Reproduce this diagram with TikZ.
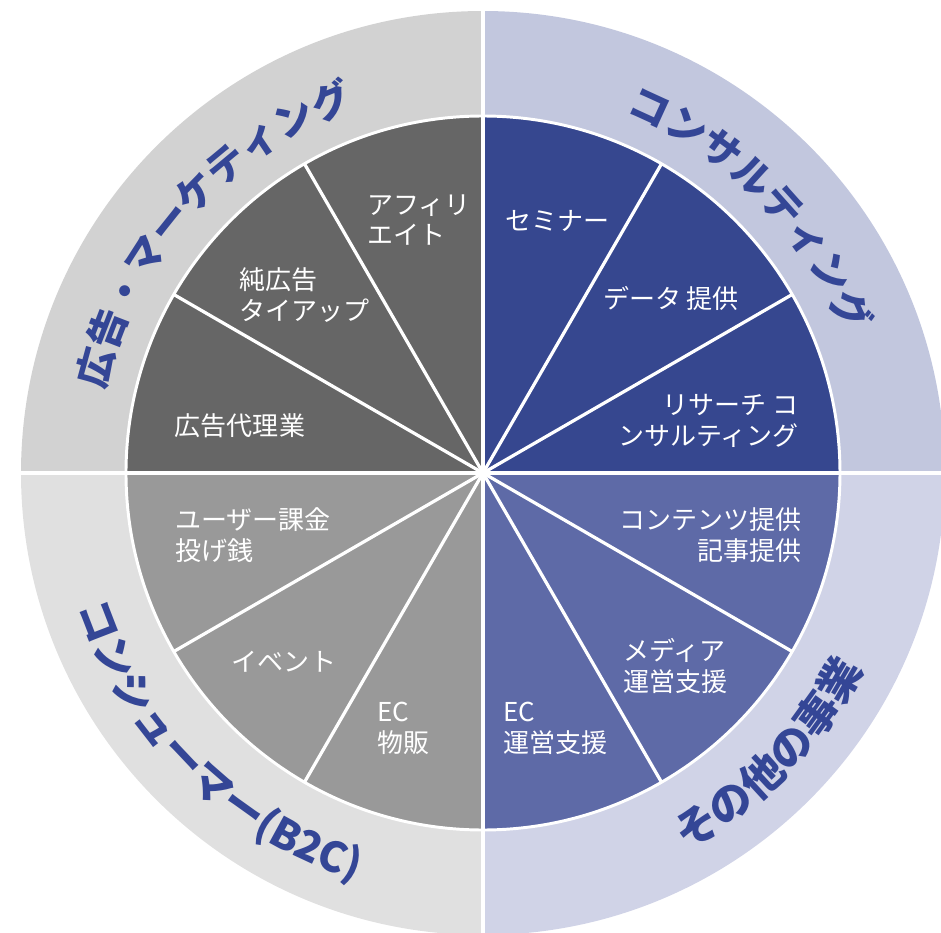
\documentclass[tikz,border=0pt]{standalone}
\usepackage{fontspec}
\newfontfamily\cjk{Noto Sans CJK JP}
\usetikzlibrary{decorations.text}
\definecolor{ringTL}{HTML}{D2D2D2}
\definecolor{ringTR}{HTML}{C2C7DE}
\definecolor{ringBR}{HTML}{D0D3E7}
\definecolor{ringBL}{HTML}{E0E0E0}
\definecolor{pieTL}{HTML}{666666}
\definecolor{pieTR}{HTML}{36478F}
\definecolor{pieBR}{HTML}{5E6AA7}
\definecolor{pieBL}{HTML}{999999}
\definecolor{titleblue}{HTML}{344696}
\begin{document}
\begin{tikzpicture}[x=0.25mm, y=0.25mm,
  item/.style={text=white, font=\cjk\fontsize{18.5}{22}\selectfont, inner sep=0pt},
  spoke/.style={white, line width=2.3pt}]
\useasboundingbox (-483,-460) rectangle (458,473);
\foreach \a/\ring/\pie in {90/ringTR/pieTR, 0/ringBR/pieBR, 270/ringBL/pieBL, 180/ringTL/pieTL}{
  \fill[\ring] (0,0) -- (\a-90:462) arc[start angle=\a-90, end angle=\a, radius=462] -- cycle;
  \fill[\pie] (0,0) -- (\a-90:357) arc[start angle=\a-90, end angle=\a, radius=357] -- cycle;
}
\draw[white, line width=2.1pt] (0,0) circle[radius=357];
\foreach \a in {30,60,120,150,210,240,300,330}
  \draw[spoke] (0,0) -- (\a:357);
\draw[white, line width=3pt] (-470,0) -- (470,0);
\draw[white, line width=3pt] (0,-470) -- (0,470);

\path[decorate, decoration={text along path, text align=center, text color=titleblue,
  text={|\cjk\bfseries\fontsize{28}{30}\selectfont|広告・マーケティング}}]
  (178.5:387) arc[start angle=178.5, end angle=98.5, radius=387];
\path[decorate, decoration={text along path, text align=center, text color=titleblue,
  text={|\cjk\bfseries\fontsize{28.5}{30}\selectfont|コンサルティング}}]
  (84.7:387) arc[start angle=84.7, end angle=4.7, radius=387];
\path[decorate, decoration={text along path, text align=center, text color=titleblue,
  text={|\cjk\bfseries\fontsize{29.5}{31}\selectfont|コンシューマー(B2C)}}]
  (185.5:427) arc[start angle=185.5, end angle=265.5, radius=427];
\path[decorate, decoration={text along path, text align=center, text color=titleblue,
  text={|\cjk\bfseries\fontsize{30.5}{32}\selectfont|その他の事業}}]
  (275.5:428) arc[start angle=275.5, end angle=355.5, radius=428];

\node[item, anchor=west, align=left] (afi) at (-116,253) {アフィリ\\エイト};
\node[item, anchor=west, align=left] (jun) at (-244,178) {純広告\\タイアップ};
\node[item] (dairi) at (-243,47) {広告代理業};
\node[item, anchor=west] (semi) at (22,252) {セミナー};
\node[item] (data) at (188,175) {データ 提供};
\node[item, anchor=east, align=right] (res) at (316,52) {リサーチ コ\\ンサルティング};
\node[item, anchor=east, align=right] (cont) at (319,-62) {コンテンツ提供\\記事提供};
\node[item, anchor=west, align=left] (media) at (140,-193) {メディア\\運営支援};
\node[item, anchor=west, align=left] (ecops) at (20,-255) {EC\\運営支援};
\node[item, anchor=west, align=left] (kakin) at (-308,-62) {ユーザー課金\\投げ銭};
\node[item] (event) at (-199,-189) {イベント};
\node[item, anchor=west, align=left] (ecshop) at (-106,-255) {EC\\物販};
\end{tikzpicture}
\end{document}
